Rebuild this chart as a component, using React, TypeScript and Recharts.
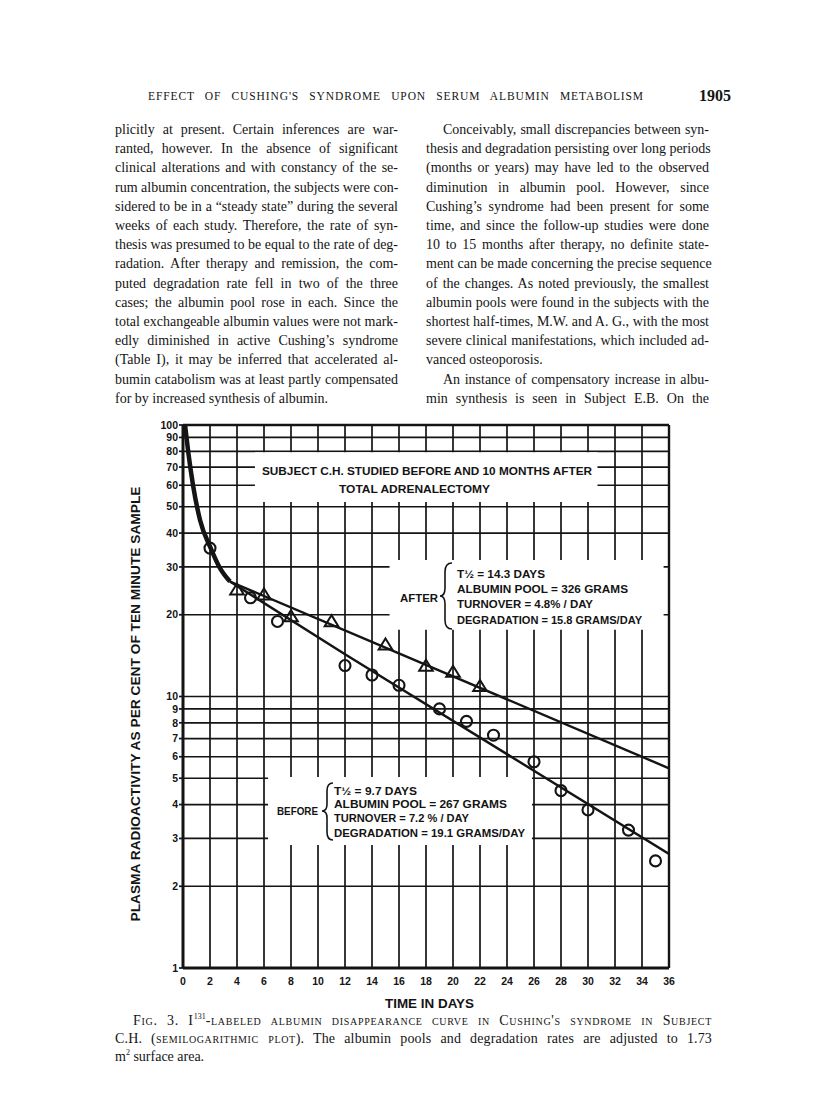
import React from 'react';
import {
  ComposedChart,
  Line,
  Scatter,
  XAxis,
  YAxis,
  CartesianGrid,
  ReferenceArea,
  ReferenceLine,
} from 'recharts';

// ---------- data ----------
const xTicks = [0, 2, 4, 6, 8, 10, 12, 14, 16, 18, 20, 22, 24, 26, 28, 30, 32, 34, 36];
const yTicks = [1, 2, 3, 4, 5, 6, 7, 8, 9, 10, 20, 30, 40, 50, 60, 70, 80, 90, 100];

// "Before" (circles)
const beforeDays = [2, 5, 7, 12, 14, 16, 19, 21, 23, 26, 28, 30, 33, 35];
const beforeValues = [35.2, 23.1, 18.9, 13.0, 12.0, 11.0, 9.0, 8.1, 7.2, 5.75, 4.5, 3.82, 3.22, 2.48];

// "After" (triangles)
const afterDays = [4, 6, 8, 11, 15, 18, 20, 22];
const afterValues = [24.7, 23.7, 19.7, 18.9, 15.5, 12.95, 12.3, 10.9];

// initial common curve (heavy line)
const initialDays = [0.15, 0.4, 0.76, 1.26, 2.05, 2.74, 3.48];
const initialValues = [100, 78.7, 59.3, 44.7, 35.2, 29.7, 26.5];

// fitted lines
const afterFitDays = [3.48, 36];
const afterFitValues = [26.5, 5.44];
const beforeFitDays = [3.48, 12, 36];
const beforeFitValues = [26.5, 14.3, 2.63];

const toRows = (d: number[], v: number[]) => d.map((x, i) => ({ d: x, v: v[i] }));
const beforeData = toRows(beforeDays, beforeValues);
const afterData = toRows(afterDays, afterValues);
const initialData = toRows(initialDays, initialValues);
const afterFit = toRows(afterFitDays, afterFitValues);
const beforeFit = toRows(beforeFitDays, beforeFitValues);

// ---------- page text ----------
const leftLines = [
  'plicitly at present.  Certain inferences are war-',
  'ranted, however.  In the absence of significant',
  'clinical alterations and with constancy of the se-',
  'rum albumin concentration, the subjects were con-',
  'sidered to be in a \u201csteady state\u201d during the several',
  'weeks of each study.  Therefore, the rate of syn-',
  'thesis was presumed to be equal to the rate of deg-',
  'radation.  After therapy and remission, the com-',
  'puted degradation rate fell in two of the three',
  'cases; the albumin pool rose in each.  Since the',
  'total exchangeable albumin values were not mark-',
  'edly diminished in active Cushing\u2019s syndrome',
  '(Table I), it may be inferred that accelerated al-',
  'bumin catabolism was at least partly compensated',
  'for by increased synthesis of albumin.',
];
const leftLast = [14];
const rightLines = [
  'Conceivably, small discrepancies between syn-',
  'thesis and degradation persisting over long periods',
  '(months or years) may have led to the observed',
  'diminution in albumin pool.  However, since',
  'Cushing\u2019s syndrome had been present for some',
  'time, and since the follow-up studies were done',
  '10 to 15 months after therapy, no definite state-',
  'ment can be made concerning the precise sequence',
  'of the changes.  As noted previously, the smallest',
  'albumin pools were found in the subjects with the',
  'shortest half-times, M.W. and A. G., with the most',
  'severe clinical manifestations, which included ad-',
  'vanced osteoporosis.',
  'An instance of compensatory increase in albu-',
  'min synthesis is seen in Subject E.B.  On the',
];
const rightLast = [12];
const rightIndent = [0, 13];

const INK = '#141414';
const SANS = '"Liberation Sans", Arial, sans-serif';

function TextLine(props: { text: string; left: number; top: number; width: number; justify: boolean; size?: number; lh?: number }) {
  const { text, left, top, width, justify, size = 14, lh = 19.2 } = props;
  return (
    <div
      style={{
        position: 'absolute',
        left,
        top,
        width,
        fontSize: size,
        lineHeight: lh + 'px',
        whiteSpace: 'nowrap',
        textAlign: justify ? 'justify' : 'left',
        textAlignLast: justify ? 'justify' : 'left',
      } as React.CSSProperties}
    >
      {text}
    </div>
  );
}

const Triangle = (p: any) => {
  const { cx, cy } = p;
  if (cx == null || cy == null) return <g />;
  return (
    <path
      d={`M${cx},${cy - 6.3} L${cx + 6.8},${cy + 4.7} L${cx - 6.8},${cy + 4.7} Z`}
      fill="none"
      stroke={INK}
      strokeWidth={2}
      strokeLinejoin="miter"
    />
  );
};

const Circle = (p: any) => {
  const { cx, cy } = p;
  if (cx == null || cy == null) return <g />;
  return <circle cx={cx} cy={cy} r={5.5} fill="none" stroke={INK} strokeWidth={2.1} />;
};

const tickStyle = { fontFamily: SANS, fontWeight: 700, fontSize: 10.5, fill: INK };

export default function App() {
  const LINE_TOP = 120;
  const PITCH = 19.2;
  return (
    <div
      style={{
        position: 'absolute',
        left: 0,
        top: 0,
        width: 816,
        height: 1109,
        background: '#fff',
        color: INK,
        fontFamily: '"Liberation Serif", "Times New Roman", serif',
        overflow: 'hidden',
      }}
    >
      {/* running head */}
      <div style={{ position: 'absolute', left: 148, top: 90, width: 496, fontSize: 11.5, letterSpacing: '0.9px', whiteSpace: 'nowrap', textAlign: 'justify', textAlignLast: 'justify' } as React.CSSProperties}>
        EFFECT OF CUSHING'S SYNDROME UPON SERUM ALBUMIN METABOLISM
      </div>
      <div style={{ position: 'absolute', left: 699, top: 87, fontSize: 16, fontWeight: 700, whiteSpace: 'nowrap' }}>1905</div>

      {/* left column */}
      {leftLines.map((t, i) => (
        <TextLine key={'l' + i} text={t} left={115} top={LINE_TOP + i * PITCH} width={283} justify={!leftLast.includes(i)} />
      ))}
      {/* right column */}
      {rightLines.map((t, i) => {
        const ind = rightIndent.includes(i) ? 17 : 0;
        return (
          <TextLine key={'r' + i} text={t} left={426 + ind} top={LINE_TOP + i * PITCH} width={283 - ind} justify={!rightLast.includes(i)} />
        );
      })}

      {/* chart */}
      <div style={{ position: 'absolute', left: 100, top: 400, width: 620, height: 620 }}>
        <ComposedChart width={620} height={620} margin={{ top: 25, right: 51, bottom: 22, left: 0 }}>
          <CartesianGrid stroke={INK} strokeWidth={1.7} fill="none" />
          <XAxis
            dataKey="d"
            type="number"
            domain={[0, 36]}
            ticks={xTicks}
            interval={0}
            allowDataOverflow
            height={30}
            tickLine={false}
            tickMargin={4}
            axisLine={{ stroke: INK, strokeWidth: 3 }}
            tick={tickStyle}
          />
          <YAxis
            type="number"
            scale="log"
            domain={[1, 100]}
            ticks={yTicks}
            interval={0}
            allowDataOverflow
            width={83}
            tickSize={4}
            tickMargin={1}
            tickLine={{ stroke: INK, strokeWidth: 1.7 }}
            axisLine={{ stroke: INK, strokeWidth: 3 }}
            tick={tickStyle}
          />
          <ReferenceLine y={100} stroke={INK} strokeWidth={2.6} />
          <ReferenceLine x={36} stroke={INK} strokeWidth={2.4} />

          {/* white label panels that interrupt the grid */}
          <ReferenceArea x1={5.33} x2={30.7} y1={52} y2={79.3} fill="#fff" fillOpacity={1} stroke="none" />
          <ReferenceArea x1={15.3} x2={35.6} y1={17.6} y2={31.8} fill="#fff" fillOpacity={1} stroke="none" />
          <ReferenceArea x1={6.3} x2={25.85} y1={2.84} y2={5.05} fill="#fff" fillOpacity={1} stroke="none" />

          <Line data={initialData} dataKey="v" type="monotone" stroke={INK} strokeWidth={4.5} dot={false} isAnimationActive={false} />
          <Line data={afterFit} dataKey="v" type="linear" stroke={INK} strokeWidth={2.4} dot={false} isAnimationActive={false} />
          <Line data={beforeFit} dataKey="v" type="linear" stroke={INK} strokeWidth={2.4} dot={false} isAnimationActive={false} />
          <Scatter data={beforeData} dataKey="v" shape={Circle} isAnimationActive={false} />
          <Scatter data={afterData} dataKey="v" shape={Triangle} isAnimationActive={false} />
        </ComposedChart>
      </div>

      {/* chart annotations */}
      <svg width={816} height={1109} style={{ position: 'absolute', left: 0, top: 0, pointerEvents: 'none' }}>
        <g fontFamily={SANS} fontWeight={700} fill={INK}>
          <text x={262} y={475} fontSize={11} textLength={330} lengthAdjust="spacingAndGlyphs">SUBJECT C.H.  STUDIED  BEFORE  AND  10  MONTHS  AFTER</text>
          <text x={339} y={493} fontSize={11} textLength={151} lengthAdjust="spacingAndGlyphs">TOTAL  ADRENALECTOMY</text>

          <text x={400} y={602} fontSize={11} textLength={38} lengthAdjust="spacingAndGlyphs">AFTER</text>
          <path d="M452,563 Q445,563 445,572 L445,588 Q445,596 440,596 Q445,596 445,604 L445,620 Q445,629 452,629" fill="none" stroke={INK} strokeWidth={1.6} />
          <text x={457} y={578} fontSize={11} textLength={88} lengthAdjust="spacingAndGlyphs">T{'\u00bd'} = 14.3 DAYS</text>
          <text x={457} y={593} fontSize={11} textLength={171} lengthAdjust="spacingAndGlyphs">ALBUMIN  POOL = 326  GRAMS</text>
          <text x={457} y={608} fontSize={11} textLength={136} lengthAdjust="spacingAndGlyphs">TURNOVER = 4.8% / DAY</text>
          <text x={457} y={624} fontSize={11} textLength={185} lengthAdjust="spacingAndGlyphs">DEGRADATION = 15.8 GRAMS/DAY</text>

          <text x={277} y={815} fontSize={11} textLength={41} lengthAdjust="spacingAndGlyphs">BEFORE</text>
          <path d="M333,783 Q327,783 327,791 L327,804 Q327,811 322,811 Q327,811 327,818 L327,832 Q327,840 333,840" fill="none" stroke={INK} strokeWidth={1.6} />
          <text x={334} y={795} fontSize={11} textLength={83} lengthAdjust="spacingAndGlyphs">T{'\u00bd'} = 9.7 DAYS</text>
          <text x={334} y={808} fontSize={11} textLength={173} lengthAdjust="spacingAndGlyphs">ALBUMIN  POOL = 267  GRAMS</text>
          <text x={334} y={822} fontSize={11} textLength={135} lengthAdjust="spacingAndGlyphs">TURNOVER = 7.2 % / DAY</text>
          <text x={334} y={837} fontSize={11} textLength={191} lengthAdjust="spacingAndGlyphs">DEGRADATION = 19.1 GRAMS/DAY</text>

          <text x={140} y={704} fontSize={13} textAnchor="middle" textLength={435} lengthAdjust="spacingAndGlyphs" transform="rotate(-90 140 704)">
            PLASMA  RADIOACTIVITY  AS  PER  CENT  OF  TEN  MINUTE  SAMPLE
          </text>
          <text x={429.5} y={1008} fontSize={12} textAnchor="middle" textLength={89} lengthAdjust="spacingAndGlyphs">TIME IN DAYS</text>
        </g>
      </svg>

      {/* caption */}
      <div style={{ position: 'absolute', left: 133, top: 1012, width: 579, fontSize: 14, lineHeight: '18px', letterSpacing: '0.7px', whiteSpace: 'nowrap', textAlign: 'justify', textAlignLast: 'justify', fontVariant: 'small-caps' } as React.CSSProperties}>
        Fig. 3.  I<sup style={{ fontSize: 8, lineHeight: 0, letterSpacing: 0 }}>131</sup>-labeled albumin disappearance curve in Cushing's syndrome in Subject
      </div>
      <div style={{ position: 'absolute', left: 115, top: 1030, width: 597, fontSize: 14, lineHeight: '18px', letterSpacing: '0.15px', whiteSpace: 'nowrap', textAlign: 'justify', textAlignLast: 'justify' } as React.CSSProperties}>
        C.H. (<span style={{ fontVariant: 'small-caps', letterSpacing: '0.6px' }}>semilogarithmic plot</span>).  The albumin pools and degradation rates are adjusted to 1.73
      </div>
      <div style={{ position: 'absolute', left: 115, top: 1048, fontSize: 14, lineHeight: '18px', whiteSpace: 'nowrap' }}>
        m<sup style={{ fontSize: 8, lineHeight: 0 }}>2</sup> surface area.
      </div>
    </div>
  );
}
